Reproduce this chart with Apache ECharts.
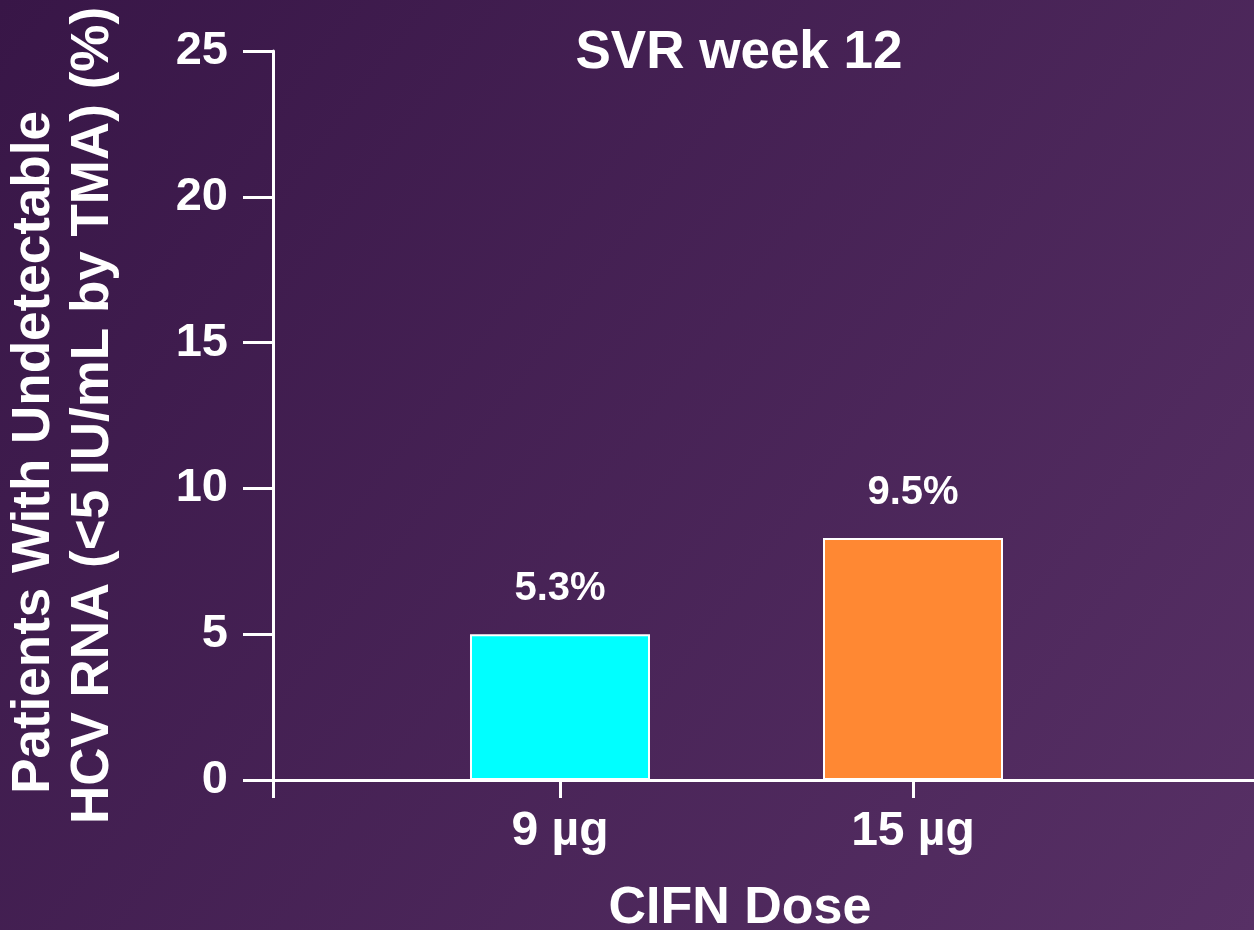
<!DOCTYPE html>
<html>
<head>
<meta charset="utf-8">
<script src="https://cdn.jsdelivr.net/npm/echarts@6/dist/echarts.min.js"></script>
<style>
  html, body { margin: 0; padding: 0; }
  #chart { width: 1254px; height: 930px; }
</style>
</head>
<body>
<div id="chart"></div>
<script>
// doses, positions on the dose axis, bar heights, printed labels
const doses = ['9 µg', '15 µg']
const dosePos = [1, 2]
const svrValues = [5.0, 8.3]
const svrLabels = ['5.3%', '9.5%']
const barColors = ['#00ffff', '#ff8833']
const yTicks = [0, 5, 10, 15, 20, 25]

const font = 'Liberation Sans, Arial, sans-serif'
const chart = echarts.init(document.getElementById('chart'))

chart.setOption({
  backgroundColor: new echarts.graphic.LinearGradient(0, 0, 1, 1, [
    { offset: 0, color: '#381647' },
    { offset: 1, color: '#573065' }
  ]),
  title: {
    text: 'SVR week 12',
    left: 734,
    textAlign: 'center',
    top: 22,
    textStyle: { color: '#fff', fontSize: 53, fontWeight: 'bold', fontFamily: font }
  },
  grid: { left: 273, right: 0, top: 51, bottom: 150, containLabel: false, outerBoundsMode: 'none' },
  xAxis: {
    type: 'value',
    min: 0.187,
    max: 2.966,
    splitLine: { show: false },
    axisLine: { show: true, lineStyle: { color: '#fff', width: 3 } },
    axisTick: { show: true, length: 18, lineStyle: { color: '#fff', width: 3 }, customValues: [0.187].concat(dosePos) },
    axisLabel: {
      customValues: dosePos,
      formatter: v => doses[dosePos.indexOf(v)] || '',
      color: '#fff', fontSize: 48, fontWeight: 'bold', fontFamily: font, margin: 28
    },
    name: 'CIFN Dose',
    nameLocation: 'middle',
    nameGap: 103,
    nameTextStyle: { color: '#fff', fontSize: 52, fontWeight: 'bold', fontFamily: font, padding: [0, 47, 0, 0] }
  },
  yAxis: {
    type: 'value',
    min: yTicks[0],
    max: yTicks[yTicks.length - 1],
    interval: 5,
    splitLine: { show: false },
    axisLine: { show: true, lineStyle: { color: '#fff', width: 3 } },
    axisTick: { show: true, length: 30, lineStyle: { color: '#fff', width: 3 } },
    axisLabel: { color: '#fff', fontSize: 47, fontWeight: 'bold', fontFamily: font, margin: 45 },
    name: '{a|Patients With Undetectable}\n{b|HCV RNA (<5 IU/mL by TMA) (%)}',
    nameLocation: 'middle',
    nameRotate: 90,
    nameGap: 150,
    nameTextStyle: {
      color: '#fff', fontSize: 53, fontWeight: 'bold', fontFamily: font, lineHeight: 59,
      rich: {
        a: { color: '#fff', fontSize: 53, fontWeight: 'bold', fontFamily: font, lineHeight: 59, padding: [0, 74, 0, 0] },
        b: { color: '#fff', fontSize: 53, fontWeight: 'bold', fontFamily: font, lineHeight: 59 }
      }
    }
  },
  series: [{
    type: 'bar',
    barWidth: 180,
    data: svrValues.map((v, i) => ({
      value: [dosePos[i], v],
      itemStyle: { color: barColors[i], borderColor: '#fff', borderWidth: 2 }
    })),
    label: {
      show: true,
      position: 'top',
      distance: 25,
      formatter: p => svrLabels[p.dataIndex],
      color: '#fff', fontSize: 40, fontWeight: 'bold', fontFamily: font
    }
  }]
})
</script>
</body>
</html>
